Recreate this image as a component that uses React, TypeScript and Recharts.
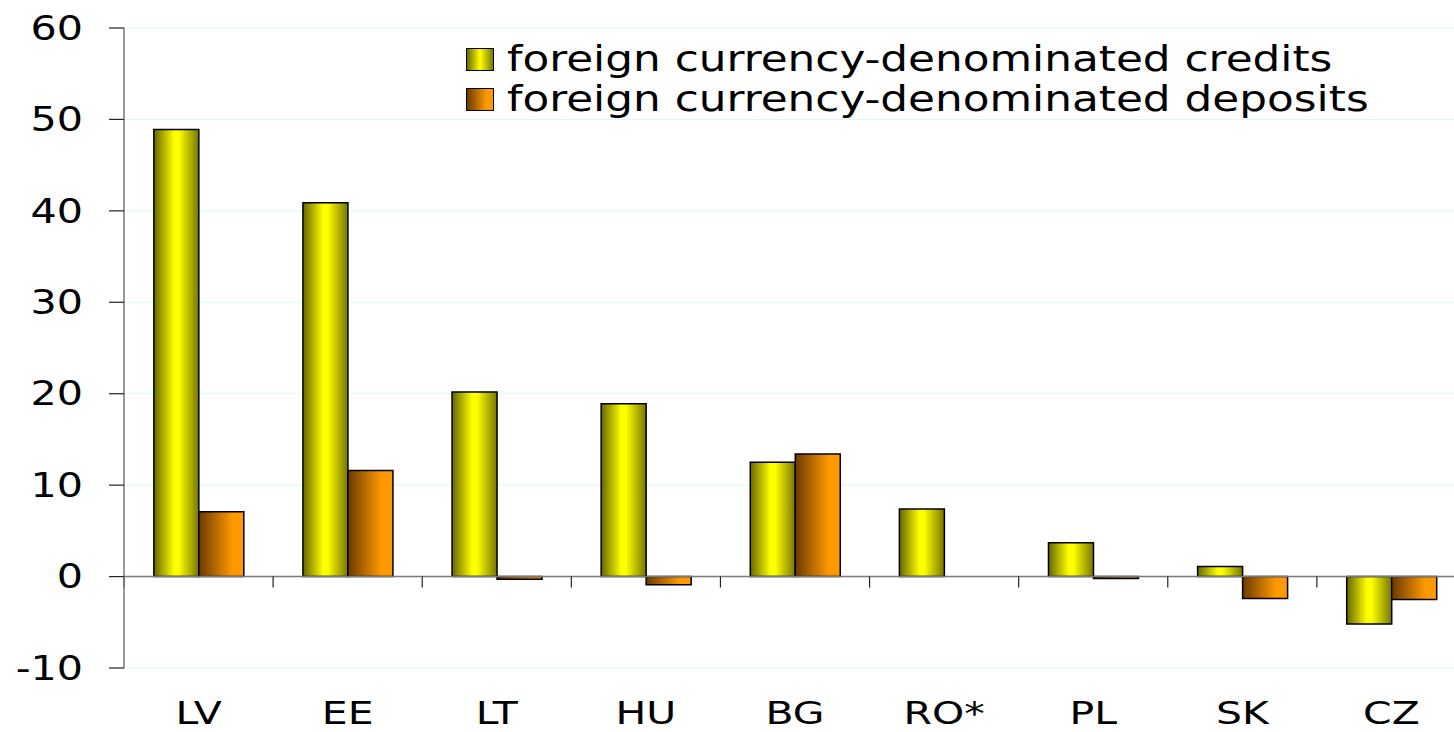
import { BarChart, Bar, XAxis, YAxis, CartesianGrid, ReferenceLine, Legend } from "recharts";

// values, in %
const categories = ["LV", "EE", "LT", "HU", "BG", "RO*", "PL", "SK", "CZ"];
const credits = [48.9, 40.9, 20.2, 18.9, 12.5, 7.4, 3.7, 1.1, -5.2];
const deposits: (number | null)[] = [7.1, 11.6, -0.3, -0.9, 13.4, null, -0.2, -2.4, -2.5];
const yTicks = [-10, 0, 10, 20, 30, 40, 50, 60];
const seriesNames = {
  credits: "foreign currency-denominated credits",
  deposits: "foreign currency-denominated deposits",
};

const data = categories.map((c, i) => ({ name: c, credits: credits[i], deposits: deposits[i] }));

const FONT = "'DejaVu Sans', Verdana, sans-serif";
const STRETCH = 1.25;

const swatch: Record<string, string> = {
  credits: "linear-gradient(to right, #6a6a00, #ffff00 50%, #7a7a00)",
  deposits: "linear-gradient(to right, #6b3a00, #ff9900 75%, #ff9900)",
};

function YTick({ x, y, payload }: any) {
  return (
    <g transform={`translate(${x},${y})`}>
      <text textAnchor="end" dy="0.355em" fontSize={33} fontFamily={FONT} fill="#000" transform={`scale(${STRETCH},1)`}>
        {payload.value}
      </text>
    </g>
  );
}

function XTick({ x, y, payload }: any) {
  return (
    <g transform={`translate(${x},${y})`}>
      <text textAnchor="middle" dy="0.71em" fontSize={32} fontFamily={FONT} fill="#000" transform={`scale(${STRETCH + 0.03},1)`}>
        {payload.value}
      </text>
    </g>
  );
}

// zero line plus the small tick marks at the category boundaries
function ZeroLine({ x1, y1, x2, y2 }: any) {
  const n = categories.length;
  const step = (x2 - x1) / n;
  return (
    <g>
      <line x1={x1} y1={y1} x2={x2} y2={y2} stroke="#7a7a7a" strokeWidth={1.5} />
      {Array.from({ length: n + 1 }, (_, i) => (
        <line key={i} x1={x1 + i * step} x2={x1 + i * step} y1={y1} y2={y1 + 11} stroke="#222" strokeWidth={1.2} />
      ))}
    </g>
  );
}

function LegendBox({ payload }: any) {
  return (
    <div style={{ fontFamily: FONT }}>
      {(payload || []).map((p: any) => (
        <div key={p.dataKey} style={{ display: "flex", alignItems: "center", height: 40, whiteSpace: "nowrap" }}>
          <span
            style={{
              display: "inline-block",
              width: 26,
              height: 21,
              border: "1.5px solid #000",
              background: swatch[p.dataKey],
              marginRight: 13,
            }}
          />
          <span
            style={{
              fontSize: 35,
              lineHeight: "40px",
              color: "#000",
              display: "inline-block",
              transform: `scaleX(${STRETCH})`,
              transformOrigin: "left center",
            }}
          >
            {p.value}
          </span>
        </div>
      ))}
    </div>
  );
}

export default function App() {
  return (
    <div style={{ position: "fixed", left: 0, top: 0, width: 1454, height: 732, overflow: "hidden", background: "#fff" }}>
      <BarChart
        width={1480}
        height={732}
        data={data}
        margin={{ top: 28, right: 14, left: 0, bottom: 0 }}
        barCategoryGap="20%"
        barGap={0}
      >
        <defs>
          <linearGradient id="gradCredits" x1="0" y1="0" x2="1" y2="0">
            <stop offset="0%" stopColor="#666600" />
            <stop offset="45%" stopColor="#ffff00" />
            <stop offset="55%" stopColor="#ffff00" />
            <stop offset="100%" stopColor="#777700" />
          </linearGradient>
          <linearGradient id="gradDeposits" x1="0" y1="0" x2="1" y2="0">
            <stop offset="0%" stopColor="#6b3a00" />
            <stop offset="75%" stopColor="#ff9900" />
            <stop offset="100%" stopColor="#ff9900" />
          </linearGradient>
        </defs>
        <CartesianGrid vertical={false} stroke="#d6fbfb" strokeWidth={1} />
        <XAxis
          dataKey="name"
          height={64}
          axisLine={false}
          tickLine={false}
          tickSize={6}
          tickMargin={27}
          tick={<XTick />}
          interval={0}
        />
        <YAxis
          width={124}
          domain={[-10, 60]}
          ticks={yTicks}
          allowDataOverflow
          axisLine={{ stroke: "#777", strokeWidth: 1.5 }}
          tickLine={{ stroke: "#222", strokeWidth: 1.2 }}
          tickSize={15}
          tickMargin={26}
          tick={<YTick />}
        />
        <ReferenceLine y={0} shape={ZeroLine} />
        <Legend
          layout="vertical"
          align="center"
          verticalAlign="middle"
          wrapperStyle={{ position: "absolute", top: 39, left: 466, width: "auto" }}
          content={<LegendBox />}
        />
        <Bar
          dataKey="credits"
          name={seriesNames.credits}
          fill="url(#gradCredits)"
          stroke="#000"
          strokeWidth={1.5}
          isAnimationActive={false}
        />
        <Bar
          dataKey="deposits"
          name={seriesNames.deposits}
          fill="url(#gradDeposits)"
          stroke="#000"
          strokeWidth={1.5}
          isAnimationActive={false}
        />
      </BarChart>
    </div>
  );
}
